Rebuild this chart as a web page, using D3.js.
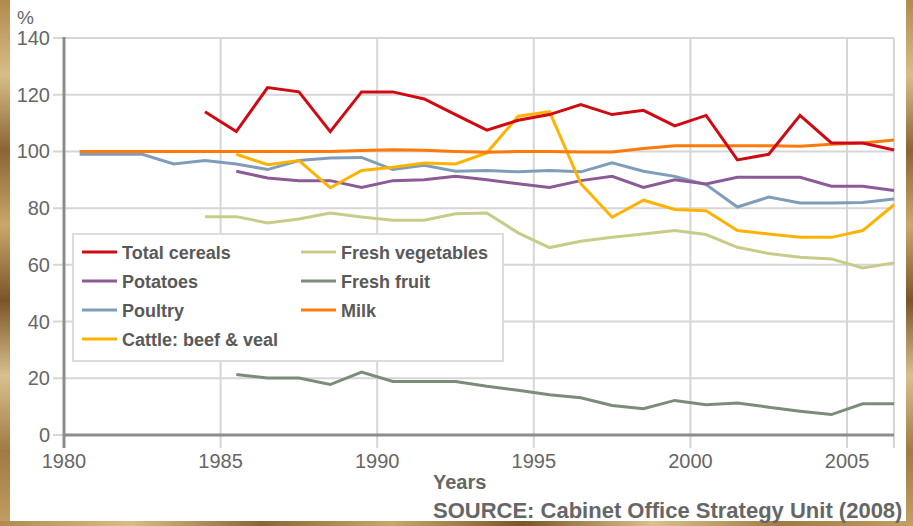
<!DOCTYPE html>
<html>
<head>
<meta charset="utf-8">
<script src="https://cdnjs.cloudflare.com/ajax/libs/d3/7.8.5/d3.min.js"></script>
<style>
    body { margin: 0; background: #fff; }
    #chart { width: 913px; height: 526px; }
    text { font-family: Arial, "Liberation Sans", sans-serif; }
</style>
</head>
<body>
<div id="chart"></div>
<script>
// values, one per year
var yearTicks = [1980, 1985, 1990, 1995, 2000, 2005];
var valueTicks = [0, 20, 40, 60, 80, 100, 120, 140];

var cerealsStart = 1984;
var cereals = [114, 107, 122.5, 121, 107, 121, 121, 118.5, 113, 107.5, 111, 113, 116.5, 113, 114.5, 109, 112.7, 97, 99, 112.7, 103, 103, 100.5];
var potatoesStart = 1985;
var potatoes = [93, 90.6, 89.7, 89.7, 87.3, 89.7, 90, 91.2, 90, 88.6, 87.3, 89.7, 91.2, 87.3, 90, 88.5, 90.9, 90.9, 90.9, 87.7, 87.7, 86.2];
var poultryStart = 1980;
var poultry = [99, 99, 99, 95.6, 96.8, 95.6, 93.6, 96.8, 97.7, 97.9, 93.6, 95.1, 93, 93.3, 92.8, 93.3, 92.8, 96, 93, 91.2, 88.3, 80.4, 83.9, 81.8, 81.8, 82, 83.2];
var cattleStart = 1985;
var cattle = [99, 95.3, 96.8, 87.2, 93.3, 94.4, 95.9, 95.6, 99.5, 112.4, 114, 88.6, 76.8, 82.8, 79.5, 79.1, 72.1, 70.9, 69.7, 69.7, 72.1, 81.2];
var vegStart = 1984;
var vegetables = [77, 77, 74.8, 76.2, 78.3, 76.9, 75.7, 75.7, 78, 78.3, 71.3, 66.1, 68.3, 69.7, 70.9, 72.1, 70.7, 66.2, 64, 62.7, 62.1, 58.9, 60.7];
var fruitStart = 1985;
var fruit = [21.3, 20.1, 20.1, 17.8, 22.2, 18.9, 18.9, 18.9, 17.2, 15.8, 14.2, 13.1, 10.4, 9.3, 12.2, 10.7, 11.3, 9.8, 8.4, 7.2, 11, 11];
var milkStart = 1980;
var milk = [100, 100, 100, 100, 100, 100, 100, 100, 100, 100.3, 100.6, 100.4, 100, 99.7, 100, 100, 99.8, 99.8, 101, 102, 102, 102, 102, 101.8, 102.5, 103, 104];

var seriesNames = ["Total cereals", "Potatoes", "Poultry", "Cattle: beef & veal", "Fresh vegetables", "Fresh fruit", "Milk"];
var seriesColors = ["#d00a12", "#8c5a96", "#7f9dba", "#ffb300", "#c9cb88", "#7b8c79", "#ff7a0a"];

function init() {
    var w = 913;
    var h = 526;

    var svg = d3.select("#chart")
        .append("svg")
        .attr("width", w)
        .attr("height", h);

    // straw texture round the edges
    var defs = svg.append("defs");
    var grad = defs.append("linearGradient")
        .attr("id", "straw")
        .attr("x1", "0").attr("y1", "0")
        .attr("x2", "0").attr("y2", "1")
        .attr("spreadMethod", "repeat");
    var strawStops = ["#b08a4e", "#d8bd86", "#8a6534", "#c9a76a", "#7a5528", "#d9c08e", "#a07a42", "#c29f63"];
    strawStops.forEach(function (c, i) {
        grad.append("stop").attr("offset", (i / (strawStops.length - 1))).attr("stop-color", c);
    });
    var gradH = defs.append("linearGradient")
        .attr("id", "strawH")
        .attr("x1", "0").attr("y1", "0")
        .attr("x2", "1").attr("y2", "0");
    strawStops.forEach(function (c, i) {
        gradH.append("stop").attr("offset", (i / (strawStops.length - 1))).attr("stop-color", c);
    });

    svg.append("rect").attr("x", 0).attr("y", 0).attr("width", w).attr("height", h).attr("fill", "#fff");
    svg.append("rect").attr("x", 0).attr("y", 0).attr("width", 10).attr("height", h).attr("fill", "url(#straw)");
    svg.append("rect").attr("x", 906).attr("y", 0).attr("width", 7).attr("height", h).attr("fill", "url(#straw)");
    svg.append("rect").attr("x", 0).attr("y", 521).attr("width", w).attr("height", 5).attr("fill", "url(#strawH)");

    var xScale = d3.scaleLinear()
        .domain([1980, 2006.5])
        .range([64, 894]);

    var yScale = d3.scaleLinear()
        .domain([0, 140])
        .range([435, 38]);

    // horizontal grid lines
    svg.append("g")
        .selectAll("line")
        .data(valueTicks)
        .enter()
        .append("line")
        .attr("x1", 53)
        .attr("x2", xScale(2006.5))
        .attr("y1", function (d) { return yScale(d); })
        .attr("y2", function (d) { return yScale(d); })
        .attr("stroke", "#d6d6d6")
        .attr("stroke-width", 2);

    // vertical grid lines, plus the right edge
    svg.append("g")
        .selectAll("line")
        .data(yearTicks.slice(1).concat([2006.5]))
        .enter()
        .append("line")
        .attr("x1", function (d) { return xScale(d); })
        .attr("x2", function (d) { return xScale(d); })
        .attr("y1", yScale(140))
        .attr("y2", 448)
        .attr("stroke", "#d6d6d6")
        .attr("stroke-width", 2);

    // axes
    svg.append("line")
        .attr("x1", xScale(1980)).attr("x2", xScale(1980))
        .attr("y1", yScale(140) - 1).attr("y2", 448)
        .attr("stroke", "#8c8c8c").attr("stroke-width", 3);
    svg.append("line")
        .attr("x1", xScale(1980)).attr("x2", xScale(2006.5))
        .attr("y1", yScale(0)).attr("y2", yScale(0))
        .attr("stroke", "#8c8c8c").attr("stroke-width", 3);

    svg.append("g")
        .selectAll("text")
        .data(valueTicks)
        .enter()
        .append("text")
        .attr("x", 50)
        .attr("y", function (d) { return yScale(d) + 7; })
        .attr("text-anchor", "end")
        .attr("font-size", 20)
        .attr("fill", "#666")
        .text(function (d) { return d; });

    svg.append("g")
        .selectAll("text")
        .data(yearTicks)
        .enter()
        .append("text")
        .attr("x", function (d) { return xScale(d); })
        .attr("y", 468)
        .attr("text-anchor", "middle")
        .attr("font-size", 20)
        .attr("fill", "#666")
        .text(function (d) { return d; });

    svg.append("text")
        .attr("x", 17)
        .attr("y", 24)
        .attr("font-size", 19)
        .attr("fill", "#666")
        .text("%");

    svg.append("text")
        .attr("x", 433)
        .attr("y", 489)
        .attr("font-size", 20)
        .attr("font-weight", "bold")
        .attr("fill", "#666")
        .text("Years");

    svg.append("text")
        .attr("x", 433)
        .attr("y", 518)
        .attr("font-size", 22)
        .attr("font-weight", "bold")
        .attr("fill", "#666")
        .text("SOURCE: Cabinet Office Strategy Unit (2008)");

    // legend
    svg.append("rect")
        .attr("x", 73)
        .attr("y", 234)
        .attr("width", 430)
        .attr("height", 127)
        .attr("fill", "#fff")
        .attr("stroke", "#dcdcdc")
        .attr("stroke-width", 2);

    var legend = svg.append("g")
        .selectAll("g")
        .data(seriesNames)
        .enter()
        .append("g")
        .attr("transform", function (d, i) {
            var col = i < 4 ? 0 : 1;
            var row = i < 4 ? i : i - 4;
            return "translate(" + (col === 0 ? 82 : 301) + "," + (252 + row * 29) + ")";
        });

    legend.append("line")
        .attr("x1", 0).attr("x2", 35)
        .attr("y1", 0).attr("y2", 0)
        .attr("stroke", function (d, i) { return seriesColors[i]; })
        .attr("stroke-width", 3);

    legend.append("text")
        .attr("x", 40)
        .attr("y", 7)
        .attr("font-size", 18)
        .attr("font-weight", "bold")
        .attr("fill", "#595959")
        .text(function (d) { return d; });

    // lines
    var line = d3.line()
        .x(function (d) { return xScale(d.year + 0.5); })
        .y(function (d) { return yScale(d.value); });

    function toPoints(start, values) {
        return values.map(function (v, i) {
            return { year: start + i, value: v };
        });
    }

    var drawOrder = [
        [5, fruitStart, fruit],
        [4, vegStart, vegetables],
        [2, poultryStart, poultry],
        [1, potatoesStart, potatoes],
        [3, cattleStart, cattle],
        [6, milkStart, milk],
        [0, cerealsStart, cereals]
    ];

    svg.append("g")
        .selectAll("path")
        .data(drawOrder)
        .enter()
        .append("path")
        .attr("d", function (d) { return line(toPoints(d[1], d[2])); })
        .attr("fill", "none")
        .attr("stroke", function (d) { return seriesColors[d[0]]; })
        .attr("stroke-width", 3)
        .attr("stroke-linejoin", "miter");
}

window.onload = init;
</script>
</body>
</html>
